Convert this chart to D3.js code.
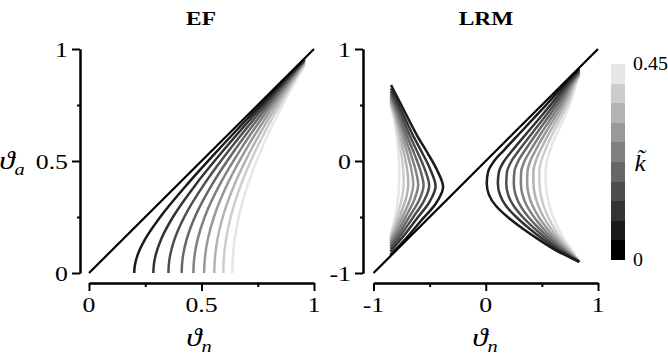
<!DOCTYPE html>
<html>
<head>
<meta charset="utf-8">
<script src="https://cdn.jsdelivr.net/npm/d3@7"></script>
<style>
  html, body { margin: 0; padding: 0; background: #fff; }
  svg { display: block; }
</style>
</head>
<body>
<svg id="chart" width="668" height="362"></svg>
<script>
// Curve parameter k~ for each family member (k~ = 0 is the diagonal)
const kLevels = [0.05, 0.10, 0.15, 0.20, 0.25, 0.30, 0.35, 0.40, 0.45];

// EF: [theta_n, theta_a] samples, one array per k~
const efCurves = [
  [[0.201,0],[0.2031,0.03],[0.2157,0.08],[0.249,0.15],[0.3168,0.25],[0.4404,0.4],[0.575,0.55],[0.7146,0.7],[0.8566,0.85],[0.958,0.9562]],
  [[0.286,0],[0.2875,0.03],[0.2961,0.08],[0.3201,0.15],[0.3731,0.25],[0.4782,0.4],[0.5996,0.55],[0.7292,0.7],[0.8633,0.85],[0.958,0.9542]],
  [[0.353,0],[0.3541,0.03],[0.3608,0.08],[0.3799,0.15],[0.4235,0.25],[0.5145,0.4],[0.624,0.55],[0.744,0.7],[0.8701,0.85],[0.958,0.9519]],
  [[0.412,0],[0.4129,0.03],[0.4183,0.08],[0.434,0.15],[0.4707,0.25],[0.55,0.4],[0.6487,0.55],[0.7593,0.7],[0.8773,0.85],[0.958,0.9492]],
  [[0.464,0],[0.4648,0.03],[0.4694,0.08],[0.4827,0.15],[0.5141,0.25],[0.5838,0.4],[0.6728,0.55],[0.7745,0.7],[0.8845,0.85],[0.958,0.9462]],
  [[0.512,0],[0.5126,0.03],[0.5165,0.08],[0.5279,0.15],[0.5552,0.25],[0.6166,0.4],[0.6966,0.55],[0.7897,0.7],[0.8918,0.85],[0.958,0.9427]],
  [[0.557,0],[0.5575,0.03],[0.5609,0.08],[0.5707,0.15],[0.5944,0.25],[0.6485,0.4],[0.7203,0.55],[0.8051,0.7],[0.8992,0.85],[0.958,0.9385]],
  [[0.597,0],[0.5975,0.03],[0.6004,0.08],[0.609,0.15],[0.6298,0.25],[0.6778,0.4],[0.7424,0.55],[0.8196,0.7],[0.9063,0.85],[0.958,0.934]],
  [[0.637,0],[0.6374,0.03],[0.64,0.08],[0.6474,0.15],[0.6655,0.25],[0.7077,0.4],[0.7652,0.55],[0.8348,0.7],[0.9138,0.85],[0.958,0.9283]]
];

// LRM, branch to the right of the diagonal: [theta_n, theta_a], bottom to top
const lrmRight = [
  [[0.833,-0.9],[0.63,-0.8],[0.47,-0.7],[0.325,-0.6],[0.195,-0.5],[0.09,-0.4],[0.028,-0.3],[0.009,-0.2],[0.02,-0.1],[0.075,0],[0.165,0.1],[0.305,0.25],[0.445,0.4],[0.583,0.55],[0.715,0.7],[0.833,0.824]],
  [[0.833,-0.9],[0.656,-0.8],[0.513,-0.7],[0.385,-0.6],[0.272,-0.5],[0.18,-0.4],[0.126,-0.3],[0.108,-0.2],[0.117,-0.1],[0.164,0],[0.242,0.1],[0.367,0.25],[0.494,0.4],[0.617,0.55],[0.733,0.7],[0.833,0.813]],
  [[0.833,-0.9],[0.676,-0.8],[0.546,-0.7],[0.431,-0.6],[0.329,-0.5],[0.248,-0.4],[0.199,-0.3],[0.183,-0.2],[0.189,-0.1],[0.23,0],[0.3,0.1],[0.414,0.25],[0.531,0.4],[0.643,0.55],[0.746,0.7],[0.833,0.805]],
  [[0.833,-0.9],[0.694,-0.8],[0.575,-0.7],[0.472,-0.6],[0.38,-0.5],[0.309,-0.4],[0.265,-0.3],[0.25,-0.2],[0.254,-0.1],[0.29,0],[0.353,0.1],[0.456,0.25],[0.564,0.4],[0.666,0.55],[0.759,0.7],[0.833,0.797]],
  [[0.833,-0.9],[0.711,-0.8],[0.603,-0.7],[0.51,-0.6],[0.429,-0.5],[0.366,-0.4],[0.327,-0.3],[0.313,-0.2],[0.315,-0.1],[0.346,0],[0.402,0.1],[0.495,0.25],[0.595,0.4],[0.688,0.55],[0.77,0.7],[0.833,0.79]],
  [[0.833,-0.9],[0.726,-0.8],[0.628,-0.7],[0.544,-0.6],[0.472,-0.5],[0.417,-0.4],[0.383,-0.3],[0.369,-0.2],[0.371,-0.1],[0.397,0],[0.446,0.1],[0.531,0.25],[0.623,0.4],[0.708,0.55],[0.78,0.7],[0.833,0.784]],
  [[0.833,-0.9],[0.741,-0.8],[0.652,-0.7],[0.578,-0.6],[0.515,-0.5],[0.468,-0.4],[0.437,-0.3],[0.425,-0.2],[0.424,-0.1],[0.446,0],[0.489,0.1],[0.566,0.25],[0.65,0.4],[0.727,0.55],[0.79,0.7],[0.833,0.777]],
  [[0.833,-0.9],[0.755,-0.8],[0.675,-0.7],[0.61,-0.6],[0.556,-0.5],[0.516,-0.4],[0.49,-0.3],[0.478,-0.2],[0.477,-0.1],[0.494,0],[0.531,0.1],[0.599,0.25],[0.677,0.4],[0.745,0.55],[0.8,0.7],[0.833,0.771]],
  [[0.833,-0.9],[0.77,-0.8],[0.7,-0.7],[0.645,-0.6],[0.6,-0.5],[0.568,-0.4],[0.546,-0.3],[0.535,-0.2],[0.532,-0.1],[0.545,0],[0.575,0.1],[0.635,0.25],[0.705,0.4],[0.765,0.55],[0.81,0.7],[0.833,0.765]]
];

// LRM, branch to the left of the diagonal: [theta_n, theta_a], bottom to top
const lrmLeft = [
  [[-0.85,-0.84],[-0.708,-0.688],[-0.579,-0.536],[-0.448,-0.384],[-0.38,-0.232],[-0.434,-0.081],[-0.518,0.071],[-0.609,0.223],[-0.689,0.375],[-0.766,0.527],[-0.844,0.679]],
  [[-0.85,-0.809],[-0.727,-0.663],[-0.616,-0.517],[-0.505,-0.372],[-0.447,-0.226],[-0.492,-0.08],[-0.562,0.065],[-0.639,0.211],[-0.708,0.357],[-0.775,0.502],[-0.845,0.648]],
  [[-0.85,-0.783],[-0.743,-0.642],[-0.647,-0.502],[-0.553,-0.361],[-0.504,-0.221],[-0.541,-0.08],[-0.6,0.06],[-0.665,0.2],[-0.724,0.341],[-0.783,0.482],[-0.846,0.622]],
  [[-0.85,-0.76],[-0.757,-0.624],[-0.675,-0.488],[-0.595,-0.352],[-0.554,-0.216],[-0.584,-0.08],[-0.633,0.055],[-0.688,0.191],[-0.738,0.327],[-0.79,0.464],[-0.847,0.6]],
  [[-0.85,-0.738],[-0.77,-0.606],[-0.701,-0.475],[-0.635,-0.343],[-0.602,-0.212],[-0.625,-0.08],[-0.664,0.051],[-0.709,0.183],[-0.751,0.314],[-0.796,0.446],[-0.847,0.578]],
  [[-0.85,-0.718],[-0.783,-0.59],[-0.725,-0.463],[-0.672,-0.335],[-0.646,-0.208],[-0.662,-0.08],[-0.693,0.047],[-0.729,0.175],[-0.764,0.302],[-0.802,0.43],[-0.848,0.558]],
  [[-0.85,-0.698],[-0.795,-0.574],[-0.75,-0.451],[-0.709,-0.327],[-0.69,-0.204],[-0.7,-0.08],[-0.722,0.043],[-0.749,0.167],[-0.776,0.29],[-0.808,0.414],[-0.849,0.538]],
  [[-0.85,-0.679],[-0.807,-0.559],[-0.773,-0.439],[-0.745,-0.319],[-0.731,-0.2],[-0.736,-0.08],[-0.749,0.04],[-0.768,0.159],[-0.788,0.279],[-0.813,0.399],[-0.849,0.519]],
  [[-0.85,-0.66],[-0.818,-0.544],[-0.795,-0.428],[-0.779,-0.312],[-0.772,-0.196],[-0.771,-0.08],[-0.776,0.036],[-0.786,0.152],[-0.799,0.268],[-0.819,0.384],[-0.85,0.5]]
];

// k~ = 0 line (theta_a = theta_n) in each panel
const efDiagonal = [[0, 0], [1, 1]];
const lrmDiagonal = [[-1, -1], [1, 1]];

// Axis ticks
const efMajorTicks = [0, 0.5, 1];
const efMinorTicks = [0.25, 0.75];
const lrmMajorTicks = [-1, 0, 1];
const lrmMinorTicks = [-0.5, 0.5];

// Colour bar
const colorbarDomain = [0, 0.45];
const colorbarSteps = 10;
const colorbarLabels = [0, 0.45];

const SERIF = "'Liberation Serif', 'Times New Roman', Times, serif";
const svg = d3.select("#chart");
const TEXT_SX = 1.2;           // horizontal stretch of the lettering
const tickFont = 21.5;

const gray = d3.scaleLinear().domain([0, 0.5]).range(["#000000", "#ffffff"]);

// text with the figure's horizontally widened lettering
function label(x, y, str, opts = {}) {
  return svg.append("text")
    .attr("transform", `translate(${x},${y}) scale(${opts.sx || TEXT_SX},1)`)
    .attr("text-anchor", opts.anchor || "middle")
    .attr("font-family", SERIF)
    .attr("font-size", opts.size || tickFont)
    .attr("font-weight", opts.weight || "normal")
    .attr("font-style", opts.style || "normal")
    .attr("fill", "#000")
    .text(str);
}

function thetaLabel(x, y, sub) {
  const t = svg.append("text")
    .attr("transform", `translate(${x},${y}) scale(${TEXT_SX},1)`)
    .attr("text-anchor", "middle")
    .attr("font-family", SERIF)
    .attr("font-size", 26)
    .attr("font-style", "italic")
    .attr("fill", "#000");
  t.append("tspan").text("\u03D1");
  t.append("tspan").attr("font-size", 17).attr("dy", 6).text(sub);
  return t;
}

function drawAxes(xs, ys, axisX, axisY, major, minor) {
  const yAxis = svg.append("g").attr("transform", `translate(${axisX},0)`)
    .call(d3.axisLeft(ys).tickValues(major).tickSize(8).tickSizeOuter(0).tickFormat(""));
  const yMinor = svg.append("g").attr("transform", `translate(${axisX},0)`)
    .call(d3.axisLeft(ys).tickValues(minor).tickSize(3).tickSizeOuter(0).tickFormat(""));
  const xAxis = svg.append("g").attr("transform", `translate(0,${axisY})`)
    .call(d3.axisBottom(xs).tickValues(major).tickSize(8).tickSizeOuter(0).tickFormat(""));
  const xMinor = svg.append("g").attr("transform", `translate(0,${axisY})`)
    .call(d3.axisBottom(xs).tickValues(minor).tickSize(4).tickSizeOuter(0).tickFormat(""));
  [yAxis, yMinor, xAxis, xMinor].forEach(g => {
    g.selectAll("path,line").attr("stroke", "#000").attr("stroke-width", 2);
  });
  major.forEach(v => {
    label(axisX - 12, ys(v) + 7.5, String(v), { anchor: "end" });
    label(xs(v), axisY + 29, String(v));
  });
}

function drawFamily(g, xs, ys, curves) {
  const line = d3.line().x(d => xs(d[0])).y(d => ys(d[1])).curve(d3.curveMonotoneY);
  // lighter members first so that darker ones sit on top
  for (let i = curves.length - 1; i >= 0; i--) {
    g.append("path").attr("d", line(curves[i]))
      .attr("stroke", gray(kLevels[i])).attr("stroke-width", 2.5);
  }
}

function drawDiagonal(g, xs, ys, diagonal) {
  g.append("path").attr("d", d3.line().x(d => xs(d[0])).y(d => ys(d[1]))(diagonal))
    .attr("stroke", "#000").attr("stroke-width", 2.2);
}

// ----- EF panel -----
const efX = d3.scaleLinear().domain([0, 1]).range([89, 314]);
const efY = d3.scaleLinear().domain([0, 1]).range([273, 49]);
const efG = svg.append("g").attr("fill", "none");
drawFamily(efG, efX, efY, efCurves);
drawDiagonal(efG, efX, efY, efDiagonal);
drawAxes(efX, efY, 80, 283, efMajorTicks, efMinorTicks);
label(201, 25, "EF", { size: 18, weight: "bold", sx: 1.3 });
thetaLabel(199, 346, "n");
thetaLabel(12, 169, "a");

// ----- LRM panel -----
const lrmX = d3.scaleLinear().domain([-1, 1]).range([373.5, 598]);
const lrmY = d3.scaleLinear().domain([-1, 1]).range([273, 49]);
const lrmG = svg.append("g").attr("fill", "none");
drawFamily(lrmG, lrmX, lrmY, lrmLeft);
drawFamily(lrmG, lrmX, lrmY, lrmRight);
drawDiagonal(lrmG, lrmX, lrmY, lrmDiagonal);
drawAxes(lrmX, lrmY, 363, 283, lrmMajorTicks, lrmMinorTicks);
label(486, 25, "LRM", { size: 18, weight: "bold", sx: 1.3 });
thetaLabel(485, 346, "n");

// ----- colour bar -----
const cbY = d3.scaleLinear().domain(colorbarDomain).range([260, 64]);
const step = (colorbarDomain[1] - colorbarDomain[0]) / colorbarSteps;
const bands = d3.range(colorbarSteps).map(j => colorbarDomain[0] + j * step);
svg.append("g").selectAll("rect").data(bands).join("rect")
  .attr("x", 611).attr("width", 14)
  .attr("y", d => cbY(d + step))
  .attr("height", d => cbY(d) - cbY(d + step))
  .attr("fill", (d, j) => gray(j * 0.05))
  .attr("shape-rendering", "crispEdges");
colorbarLabels.forEach(v => {
  label(633, cbY(v) + 6, String(v), { anchor: "start", size: 19, sx: 1.05 });
});
// colour bar title: k with a combining tilde
label(640, 171, "k\u0303", { size: 24, sx: 1.05, style: "italic" });
</script>
</body>
</html>
